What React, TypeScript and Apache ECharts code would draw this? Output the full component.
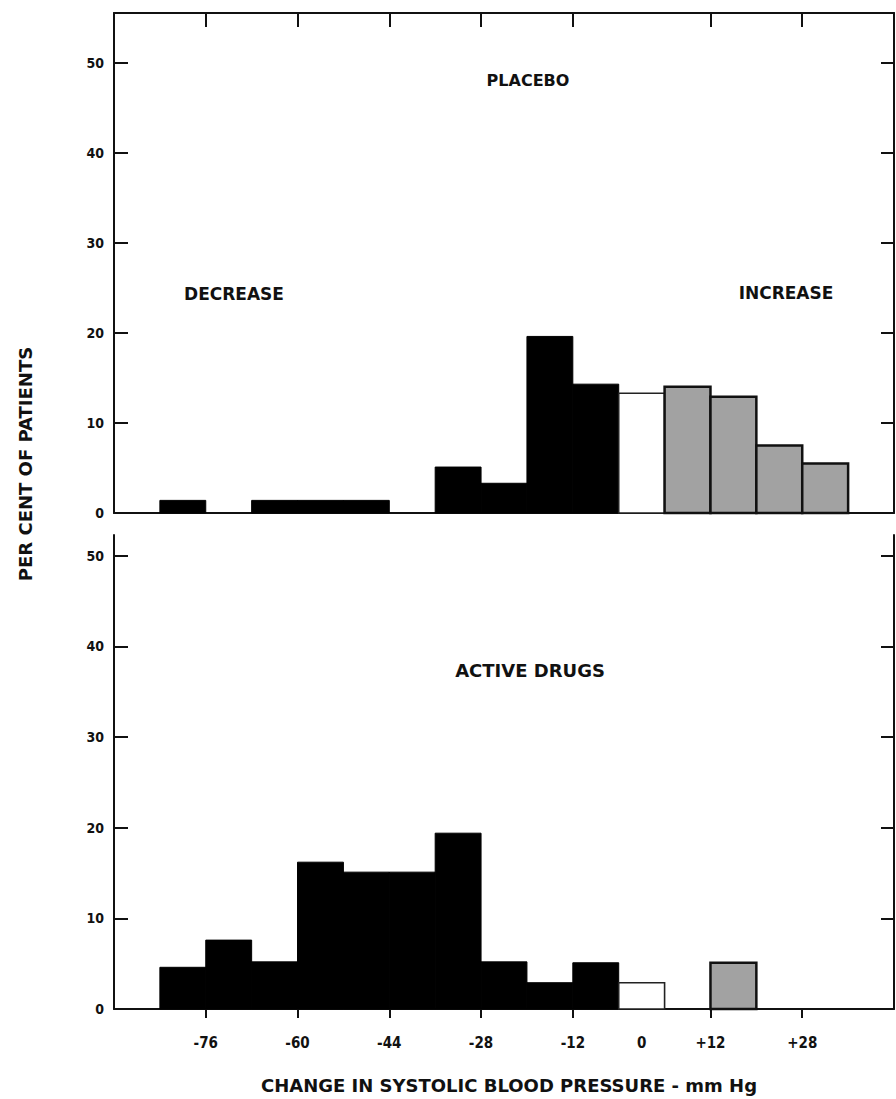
import React, { useEffect, useRef } from "react";
import * as echarts from "echarts";

// Histogram bins (mm Hg), each 8 mm Hg wide
const binStarts = [-84, -76, -68, -60, -52, -44, -36, -28, -20, -12, -4, 4, 12, 20, 28];
const binWidth = 8;
// kind of each bin: decrease / no change / increase
const binKinds = ["dec", "dec", "dec", "dec", "dec", "dec", "dec", "dec", "dec", "dec", "none", "inc", "inc", "inc", "inc"];
// per cent of patients
const placeboPct = [1.4, 0, 1.4, 1.4, 1.4, 0, 5.1, 3.3, 19.6, 14.3, 13.3, 14.0, 12.9, 7.5, 5.5];
const activePct = [4.6, 7.6, 5.2, 16.2, 15.1, 15.1, 19.4, 5.2, 2.9, 5.1, 2.9, 0, 5.1, 0, 0];

const xTickValues = [-76, -60, -44, -28, -12, 12, 28];
const xLabelValues = [-76, -60, -44, -28, -12, 0, 12, 28];
const yTickValues = [0, 10, 20, 30, 40, 50];

const FONT = "'DejaVu Sans Condensed', 'Liberation Sans Narrow', 'Liberation Sans', sans-serif";
const WIDE = "'DejaVu Sans', 'Liberation Sans', sans-serif";
const INK = "#111";

const X_MIN = -92;
const X_MAX = 44;

function histData(vals: number[]) {
  return binStarts.map((s, i) => [s, s + binWidth, vals[i]]);
}

function renderBin(params: any, api: any) {
  const x0 = api.value(0);
  const x1 = api.value(1);
  const y = api.value(2);
  if (!(y > 0)) return null;
  const p0 = api.coord([x0, 0]);
  const p1 = api.coord([x1, y]);
  const kind = binKinds[params.dataIndex];
  let style: any;
  if (kind === "dec") style = { fill: "#000", stroke: "#000", lineWidth: 1 };
  else if (kind === "none") style = { fill: "#fff", stroke: "#222", lineWidth: 1.6 };
  else style = { fill: "#a2a2a2", stroke: "#111", lineWidth: 2.5 };
  return {
    type: "rect",
    shape: { x: p0[0], y: p1[1], width: p1[0] - p0[0], height: p0[1] - p1[1] },
    style,
  };
}

export default function App() {
  const ref = useRef<HTMLDivElement>(null);
  useEffect(() => {
    if (!ref.current) return;
    const chart = echarts.init(ref.current, undefined, { renderer: "svg" });
    const axisLine = { show: true, onZero: false, lineStyle: { color: INK, width: 2 } };
    const tickLine = { color: INK, width: 2 };
    const topMax = 55.5;
    const botMax = 52.3;

    const labelAxis = (grid: number, max: number) => ({
      type: "value", gridIndex: grid, position: "left", min: 0, max,
      axisLine,
      axisTick: { show: true, inside: true, length: 14, customValues: yTickValues, lineStyle: tickLine },
      axisLabel: {
        show: true, customValues: yTickValues,
        fontFamily: FONT, fontWeight: "bold", fontSize: 14, color: INK, margin: 10,
      },
      splitLine: { show: false },
    });
    const rightTickAxis = (grid: number, max: number) => ({
      type: "value", gridIndex: grid, position: "right", min: 0, max,
      axisLine,
      axisTick: { show: true, inside: true, length: 13, customValues: yTickValues, lineStyle: tickLine },
      axisLabel: { show: false },
      splitLine: { show: false },
    });

    chart.setOption({
      animation: false,
      backgroundColor: "#fff",
      grid: [
        { left: 114, top: 13, width: 780, height: 500 },
        { left: 114, top: 535, width: 780, height: 474 },
      ],
      xAxis: [
        {
          type: "value", gridIndex: 0, position: "bottom", min: X_MIN, max: X_MAX,
          axisLine, axisTick: { show: false }, axisLabel: { show: false }, splitLine: { show: false },
        },
        {
          type: "value", gridIndex: 0, position: "top", min: X_MIN, max: X_MAX,
          axisLine,
          axisTick: { show: true, inside: true, length: 14, customValues: xTickValues, lineStyle: tickLine },
          axisLabel: { show: false }, splitLine: { show: false },
        },
        {
          type: "value", gridIndex: 1, position: "bottom", min: X_MIN, max: X_MAX,
          axisLine,
          axisTick: { show: true, inside: false, length: 9, customValues: xTickValues, lineStyle: tickLine },
          axisLabel: {
            show: true,
            customValues: xLabelValues,
            formatter: (v: number) => (v > 0 ? "+" + v : String(v)),
            fontFamily: FONT, fontWeight: "bold", fontSize: 15, color: INK, margin: 26,
          },
          splitLine: { show: false },
        },
      ],
      yAxis: [
        labelAxis(0, topMax),
        rightTickAxis(0, topMax),
        labelAxis(1, botMax),
        rightTickAxis(1, botMax),
      ],
      series: [
        {
          name: "Placebo", type: "custom", xAxisIndex: 0, yAxisIndex: 0,
          data: histData(placeboPct), encode: { x: [0, 1], y: 2 }, renderItem: renderBin,
        },
        {
          name: "Active drugs", type: "custom", xAxisIndex: 2, yAxisIndex: 2,
          data: histData(activePct), encode: { x: [0, 1], y: 2 }, renderItem: renderBin,
        },
      ],
      graphic: [
        { type: "text", x: 528, y: 80, style: { text: "PLACEBO", font: `bold 16px ${WIDE}`, fill: INK, align: "center", verticalAlign: "middle" } },
        { type: "text", x: 234, y: 294, style: { text: "DECREASE", font: `bold 17px ${WIDE}`, fill: INK, align: "center", verticalAlign: "middle" } },
        { type: "text", x: 786, y: 293, style: { text: "INCREASE", font: `bold 17px ${WIDE}`, fill: INK, align: "center", verticalAlign: "middle" } },
        { type: "text", x: 530, y: 670, style: { text: "ACTIVE DRUGS", font: `bold 18px ${WIDE}`, fill: INK, align: "center", verticalAlign: "middle" } },
        { type: "text", x: 25, y: 464, rotation: Math.PI / 2, style: { text: "PER CENT OF PATIENTS", font: `bold 18px ${WIDE}`, fill: INK, align: "center", verticalAlign: "middle" } },
        { type: "text", x: 509, y: 1085, style: { text: "CHANGE IN SYSTOLIC BLOOD PRESSURE - mm Hg", font: `bold 18px ${WIDE}`, fill: INK, align: "center", verticalAlign: "middle" } },
      ],
    });
    return () => chart.dispose();
  }, []);
  return <div ref={ref} style={{ position: "absolute", left: 0, top: 0, width: 896, height: 1099 }} />;
}
